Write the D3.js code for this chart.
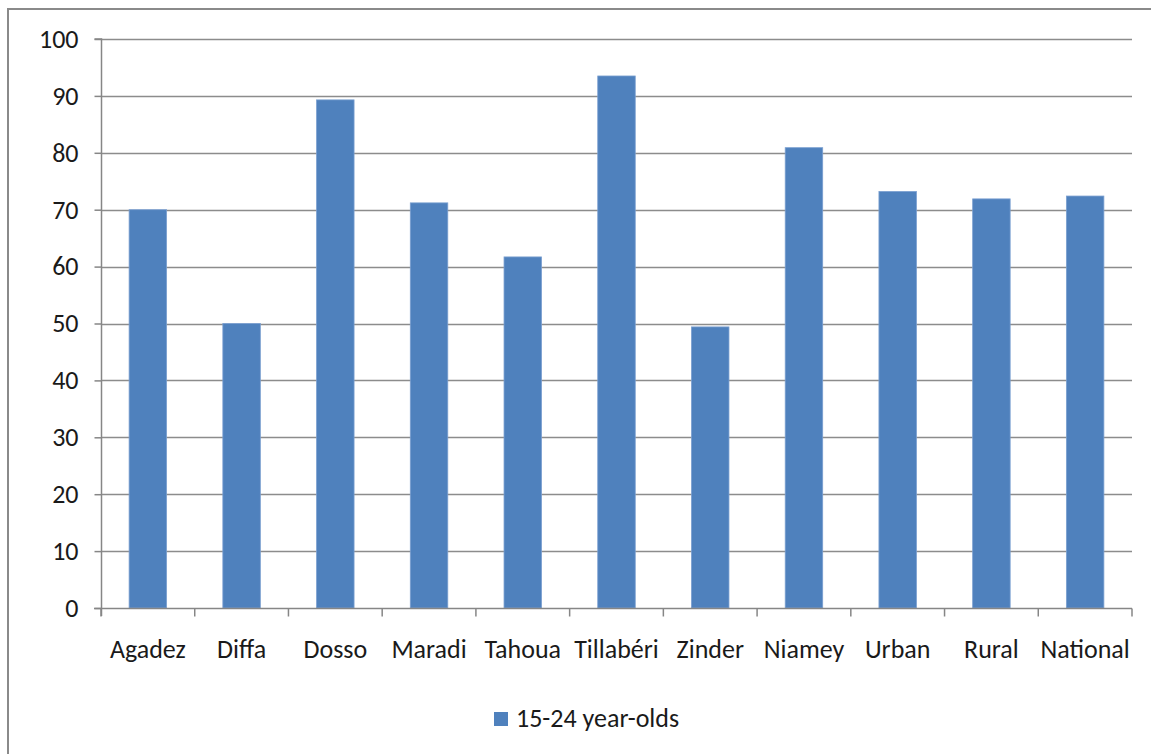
<!DOCTYPE html>
<html><head><meta charset="utf-8">
<script src="https://cdn.jsdelivr.net/npm/d3@7"></script>
<style>
html,body{margin:0;padding:0;background:#fff;overflow:hidden;}
text{font-family:Calibri,Carlito,Lato,sans-serif;fill:#1a1a1a;}
</style></head>
<body>
<svg id="chart" width="1151" height="754"></svg>
<script>
const categories = ["Agadez","Diffa","Dosso","Maradi","Tahoua","Tillabéri","Zinder","Niamey","Urban","Rural","National"];
const values = [70.0, 50.0, 89.3, 71.2, 61.7, 93.5, 49.4, 80.9, 73.2, 71.9, 72.4];
const yTicks = [0,10,20,30,40,50,60,70,80,90,100];
const seriesName = "15-24 year-olds";

const svg = d3.select("#chart");
const W = 1151, H = 754;
const pL = 101, pR = 1132, pT = 39, pB = 608;
const barColor = "#4F81BD";
const fs = 26;

// outer frame
svg.append("rect").attr("x",8).attr("y",9).attr("width",W+20).attr("height",H+20)
  .attr("fill","#fff").attr("stroke","#8a8a8a").attr("stroke-width",2);

const x = d3.scaleBand().domain(categories).range([pL,pR]).paddingInner(0.6).paddingOuter(0.3);
const xb = d3.scaleBand().domain(categories).range([pL,pR]);
const y = d3.scaleLinear().domain([0,100]).range([pB,pT]);

// gridlines
svg.append("g").selectAll("line").data(yTicks.filter(d=>d>0)).join("line")
  .attr("x1",pL).attr("x2",pR).attr("y1",d=>Math.round(y(d))+0.5).attr("y2",d=>Math.round(y(d))+0.5)
  .attr("stroke","#8c8c8c").attr("stroke-width",1.5);

// bars
svg.append("g").selectAll("rect").data(values).join("rect")
  .attr("x",(d,i)=>x(categories[i]))
  .attr("width",x.bandwidth())
  .attr("y",d=>y(d))
  .attr("height",d=>pB-y(d))
  .attr("fill",barColor)
  .attr("stroke","#7a9fd0").attr("stroke-width",0.8);

// y axis
const yAxis = d3.axisLeft(y).tickValues(yTicks).tickSize(7).tickPadding(16);
const gy = svg.append("g").attr("transform",`translate(${pL+0.5},0)`).call(yAxis);
gy.select(".domain").attr("stroke","#868686").attr("stroke-width",1.5).attr("d",`M-7,${pT}H0V${pB+8}`);
gy.selectAll(".tick line").attr("stroke","#868686").attr("stroke-width",1.5);
gy.selectAll(".tick text").attr("font-size",fs).style("font-family","Calibri,Carlito,Lato,sans-serif").attr("fill","#1a1a1a");

// x axis
const gx = svg.append("g").attr("transform",`translate(0,${pB+0.5})`);
gx.append("line").attr("x1",pL-7).attr("x2",pR).attr("y1",0).attr("y2",0)
  .attr("stroke","#868686").attr("stroke-width",1.5);
const bounds = categories.map(c=>xb(c)).concat([pR]);
gx.selectAll("line.tk").data(bounds).join("line").attr("class","tk")
  .attr("x1",d=>d).attr("x2",d=>d).attr("y1",0).attr("y2",8)
  .attr("stroke","#868686").attr("stroke-width",1.5);
gx.selectAll("text").data(categories).join("text")
  .attr("x",d=>xb(d)+xb.bandwidth()/2).attr("y",49)
  .attr("text-anchor","middle").attr("font-size",fs).text(d=>d);

// legend
const lg = svg.append("g");
lg.append("rect").attr("x",494).attr("y",712).attr("width",14).attr("height",14).attr("fill",barColor);
lg.append("text").attr("x",516).attr("y",727).attr("font-size",fs).text(seriesName);
</script>
</body></html>
